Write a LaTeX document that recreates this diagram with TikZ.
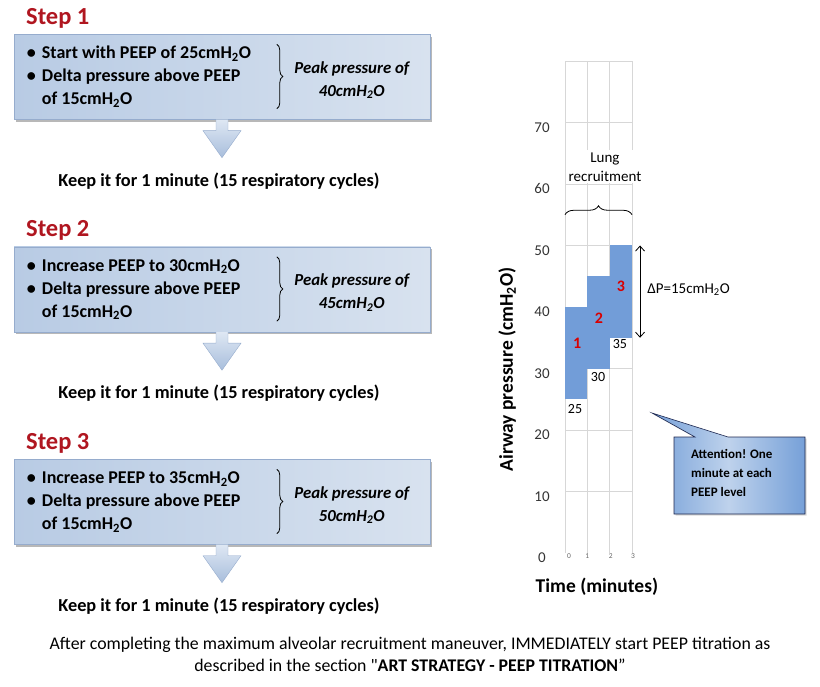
\documentclass[tikz,border=0pt]{standalone}
\usepackage{fontspec}
\setmainfont{Carlito}[Ligatures=TeXOff]
\usetikzlibrary{positioning, calc, decorations.pathreplacing, shadows, arrows.meta}

\definecolor{titlered}{RGB}{176,22,32}
\definecolor{boxdark}{RGB}{184,203,228}
\definecolor{boxlight}{RGB}{216,226,239}
\definecolor{boxedge}{RGB}{150,172,205}
\definecolor{arrowtop}{RGB}{222,231,243}
\definecolor{arrowbot}{RGB}{168,190,220}
\definecolor{barblue}{RGB}{114,157,216}
\definecolor{gridgray}{RGB}{215,215,215}
\definecolor{calloutblue}{RGB}{118,160,216}
\definecolor{calloutlight}{RGB}{190,210,236}
\definecolor{calloutedge}{RGB}{30,40,80}

\begin{document}
\begin{tikzpicture}[x=1pt, y=-1pt,
    steptitle/.style={text=titlered, font=\fontsize{24.5}{26}\selectfont\bfseries, inner sep=0pt},
    stepbox/.style={minimum width=416pt, minimum height=85pt, inner sep=0pt,
        left color=boxdark, right color=boxlight, draw=boxedge, line width=0.4pt,
        drop shadow={shadow xshift=1.5pt, shadow yshift=-2.5pt, fill=gray!70, opacity=0.8}},
    bullets/.style={font=\fontsize{18}{23}\selectfont\bfseries, inner sep=0pt, align=left},
    peak/.style={font=\fontsize{16.8}{23}\selectfont\bfseries\itshape, align=center, inner sep=0pt},
    stepbrace/.style={decorate, decoration={brace, amplitude=6pt}, line width=0.8pt},
    arrowfill/.style={top color=arrowtop, bottom color=arrowbot, draw=boxedge, line width=0.4pt},
    keeptext/.style={font=\fontsize{18.3}{20}\selectfont\bfseries, inner sep=0pt},
    axisnum/.style={font=\fontsize{15}{16}\selectfont, text=black!80, inner sep=0pt},
    ticknum/.style={font=\fontsize{7.5}{8}\selectfont, text=black!60, inner sep=0pt},
    barnum/.style={font=\fontsize{16}{17}\selectfont\bfseries, text=red!85!black, inner sep=0pt},
    barlabel/.style={font=\fontsize{14}{15}\selectfont, fill=white, inner sep=1pt},
    axistitle/.style={font=\fontsize{19.5}{21}\selectfont\bfseries, inner sep=0pt},
    callout/.style={left color=calloutblue, right color=calloutblue, middle color=calloutlight,
        draw=calloutedge, line width=0.6pt},
    notetext/.style={font=\fontsize{17.8}{22}\selectfont, align=center, inner sep=0pt}]

\useasboundingbox (0,0) rectangle (820,687);

% Steps
\foreach \n/\first/\peakval in {1/{Start with PEEP of 25cmH\textsubscript{2}O}/40,
        2/{Increase PEEP to 30cmH\textsubscript{2}O}/45,
        3/{Increase PEEP to 35cmH\textsubscript{2}O}/50} {
    \pgfmathsetmacro\off{(\n-1)*212.5}
    \node[steptitle, anchor=west] (title\n) at (26, 18+\off) {Step \n};
    \node[stepbox] (box\n) at (222, 77+\off) {};
    \node[bullets, anchor=west] (list\n) at ([xshift=13pt]box\n.west)
        {\begin{tabular}{@{}l@{\hspace{6pt}}l@{}}
         \textbullet & \first\\
         \textbullet & Delta pressure above PEEP\\
         & of 15cmH\textsubscript{2}O
         \end{tabular}};
    \draw[stepbrace] ($(box\n.north west)+(263,10)$) -- ($(box\n.south west)+(263,-11)$);
    \node[peak] (peak\n) at ($(box\n.west)+(338,3)$) {Peak pressure of\\\peakval cmH\textsubscript{2}O};
    \draw[arrowfill] ($(box\n.south)+(-6,0)$) -- ($(box\n.south)+(-6,11)$)
        -- ($(box\n.south)+(-19,11)$) -- ($(box\n.south)+(0,38)$)
        -- ($(box\n.south)+(19,11)$) -- ($(box\n.south)+(6,11)$)
        -- ($(box\n.south)+(6,0)$);
    \node[keeptext] (keep\n) at ($(box\n.south)+(-3,61)$) {Keep it for 1 minute (15 respiratory cycles)};
}

% Chart
\begin{scope}[shift={(565,553)}, x=22.33pt, y=6.15pt]
    \foreach \v in {10,20,...,80}
        \draw[gridgray, line width=0.6pt] (0,\v) -- (3,\v);
    \foreach \t in {0,...,3}
        \draw[gridgray, line width=0.6pt] (\t,0) -- (\t,80);
    \fill[barblue] (0,25) rectangle (1,40);
    \fill[barblue] (1,30) rectangle (2,45);
    \fill[barblue] (2,35) rectangle (3,50);
    \foreach \v in {0,10,...,70}
        \node[axisnum] (ynum\v) at (-1.03,\v-0.8) {\v};
    \foreach \t/\tx in {0/0.18,1/1.0,2/2.05,3/3.05}
        \node[ticknum] (tnum\t) at (\tx,-0.5) {\t};
    \node[barnum] (num1) at (0.54,34.1) {1};
    \node[barnum] (num2) at (1.52,38.2) {2};
    \node[barnum] (num3) at (2.51,43.3) {3};
    \node[barlabel] (lab25) at (0.45,23.4) {25};
    \node[barlabel] (lab30) at (1.48,28.6) {30};
    \node[barlabel] (lab35) at (2.46,34) {35};
    \node[barlabel, align=center, font=\fontsize{15}{19}\selectfont, inner sep=2pt] (lung) at (1.79,62.8) {Lung\\recruitment};
    \draw[decorate, decoration={brace, amplitude=9pt}, line width=0.8pt] (0,55) -- (3,55);
    \coordinate (dptop) at (3.36,50);
    \coordinate (dpbot) at (3.36,35);
    \draw[{Straight Barb[length=5pt, width=9pt]}-{Straight Barb[length=5pt, width=9pt]}, line width=0.8pt] (dptop) -- (dpbot);
    \node[font=\fontsize{15}{16}\selectfont, anchor=west, inner sep=0pt] (dp) at (3.68,42.8) {ΔP=15cmH\textsubscript{2}O};
    \node[axistitle, rotate=90] (ytitle) at (-2.59,29.8) {Airway pressure (cmH\textsubscript{2}O)};
    \node[axistitle] (xtitle) at (1.43,-5.5) {Time (minutes)};
\end{scope}

% Callout
\draw[callout, drop shadow={shadow xshift=1.5pt, shadow yshift=-1.5pt, fill=gray!60}]
    (674,437) -- (695,437) -- (652,413) -- (728,437) -- (805,437) -- (805,514) -- (674,514) -- cycle;
\node[font=\fontsize{13}{19}\selectfont\bfseries, align=left, anchor=north west, inner sep=0pt] (attn) at (691,449)
    {Attention! One\\minute at each\\PEEP level};

% Note
\node[notetext] (note) at (410, 654) {After completing the maximum alveolar recruitment maneuver, IMMEDIATELY start PEEP titration as\\described in the section "\textbf{ART STRATEGY - PEEP TITRATION}”};

\end{tikzpicture}
\end{document}
